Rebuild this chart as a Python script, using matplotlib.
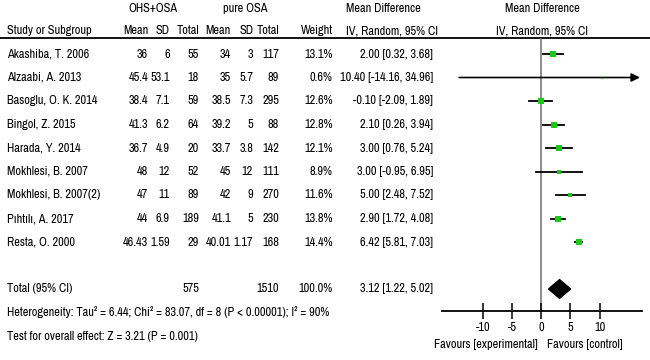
import numpy as np
import matplotlib
matplotlib.use("Agg")
import matplotlib.pyplot as plt
from matplotlib import font_manager

# condensed font, close to the Arial Narrow of the RevMan export
names = set(font_manager.get_font_names())
narrow = None
for cand in ["Liberation Sans Narrow", "Archivo Narrow", "Fira Sans Extra Condensed", "Roboto Condensed"]:
    if cand in names:
        narrow = cand
        break
if narrow:
    plt.rcParams['font.family'] = [narrow, 'DejaVu Sans']
    FS = 8.9
else:
    plt.rcParams['font.family'] = ['Liberation Sans', 'DejaVu Sans']
    FS = 7.6

# data
studies = ["Akashiba, T. 2006", "Alzaabi, A. 2013", "Basoglu, O. K. 2014", "Bingol, Z. 2015",
           "Harada, Y. 2014", "Mokhlesi, B. 2007", "Mokhlesi, B. 2007(2)", "Pıhtılı, A. 2017",
           "Resta, O. 2000"]
ohs_mean = ["36", "45.4", "38.4", "41.3", "36.7", "48", "47", "44", "46.43"]
ohs_sd = ["6", "53.1", "7.1", "6.2", "4.9", "12", "11", "6.9", "1.59"]
ohs_n = [55, 18, 59, 64, 20, 52, 89, 189, 29]
osa_mean = ["34", "35", "38.5", "39.2", "33.7", "45", "42", "41.1", "40.01"]
osa_sd = ["3", "5.7", "7.3", "5", "3.8", "12", "9", "5", "1.17"]
osa_n = [117, 89, 295, 88, 142, 111, 270, 230, 168]
weight = [13.1, 0.6, 12.6, 12.8, 12.1, 8.9, 11.6, 13.8, 14.4]
md = [2.00, 10.40, -0.10, 2.10, 3.00, 3.00, 5.00, 2.90, 6.42]
lo = [0.32, -14.16, -2.09, 0.26, 0.76, -0.95, 2.48, 1.72, 5.81]
hi = [3.68, 34.96, 1.89, 3.94, 5.24, 6.95, 7.52, 4.08, 7.03]
total_md, total_lo, total_hi = 3.12, 1.22, 5.02
xticks = [-10, -5, 0, 5, 10]
het_text = "Heterogeneity: Tau² = 6.44; Chi² = 83.07, df = 8 (P < 0.00001); I² = 90%"
test_text = "Test for overall effect: Z = 3.21 (P = 0.001)"

W, H = 650, 360
Y0, DY = 54, 23.5          # pixel y of first row, row spacing
def prow(py):
    return (py - Y0) / DY

fig = plt.figure(figsize=(W / 100, H / 100), dpi=100)
tx = fig.add_axes([0, 0, 1, 1])
tx.set_xlim(0, W)
tx.set_ylim(prow(H), prow(0))
tx.axis('off')

kw = dict(fontsize=FS, va='center', color='black')
# headers
tx.text(153, prow(9), "OHS+OSA", ha='center', **kw)
tx.text(245, prow(9), "pure OSA", ha='center', **kw)
tx.text(346, prow(9), "Mean Difference", ha='left', **kw)
tx.text(542, prow(9), "Mean Difference", ha='center', **kw)
hy = prow(31)
tx.text(7, hy, "Study or Subgroup", ha='left', **kw)
for x, s in [(148, "Mean"), (170, "SD"), (199, "Total"), (231, "Mean"),
             (253, "SD"), (279, "Total"), (333, "Weight")]:
    tx.text(x, hy, s, ha='right', **kw)
tx.text(346, hy, "IV, Random, 95% CI", ha='left', **kw)
tx.text(542, hy, "IV, Random, 95% CI", ha='center', **kw)
tx.plot([0, W], [prow(37.5), prow(37.5)], color='black', lw=1.3)

for i, name in enumerate(studies):
    tx.text(7, i, name, ha='left', **kw)
    tx.text(148, i, ohs_mean[i], ha='right', **kw)
    tx.text(170, i, ohs_sd[i], ha='right', **kw)
    tx.text(199, i, str(ohs_n[i]), ha='right', **kw)
    tx.text(231, i, osa_mean[i], ha='right', **kw)
    tx.text(253, i, osa_sd[i], ha='right', **kw)
    tx.text(279, i, str(osa_n[i]), ha='right', **kw)
    tx.text(333, i, "%.1f%%" % weight[i], ha='right', **kw)
    tx.text(433, i, "%.2f [%.2f, %.2f]" % (md[i], lo[i], hi[i]), ha='right', **kw)

tr = len(studies) + 1
tx.text(7, tr, "Total (95% CI)", ha='left', **kw)
tx.text(199, tr, str(sum(ohs_n)), ha='right', **kw)
tx.text(279, tr, str(sum(osa_n)), ha='right', **kw)
tx.text(333, tr, "100.0%", ha='right', **kw)
tx.text(433, tr, "%.2f [%.2f, %.2f]" % (total_md, total_lo, total_hi), ha='right', **kw)
tx.text(7, tr + 1, het_text, ha='left', **kw)
tx.text(7, tr + 2, test_text, ha='left', **kw)
tx.text(538, prow(344), "Favours [experimental]", ha='right', **kw)
tx.text(547, prow(344), "Favours [control]", ha='left', **kw)

# forest panel
left_px, right_px, top_px, bot_px = 442, 642, 37.5, 311
ax = fig.add_axes([left_px / W, (H - bot_px) / H, (right_px - left_px) / W, (bot_px - top_px) / H])
ax.patch.set_alpha(0)
xmin, xmax = -17.1, 17.3
ax.set_xlim(xmin, xmax)
ax.set_ylim(prow(bot_px), prow(top_px))
for s in ['top', 'right', 'left']:
    ax.spines[s].set_visible(False)
ax.spines['bottom'].set_linewidth(1.3)
ax.set_yticks([])
ax.set_xticks(xticks)
ax.set_xticklabels([str(t) for t in xticks])
ax.tick_params(axis='x', direction='inout', length=11, width=1.1, labelsize=FS, pad=2.5)
ax.axvline(0, color='#6e6e6e', lw=1.1, zorder=1)

green = '#19c819'
for i in range(len(studies)):
    if hi[i] > xmax:
        ax.annotate("", xy=(xmax - 0.35, i), xytext=(lo[i], i),
                    arrowprops=dict(arrowstyle='-|>,head_length=0.5,head_width=0.25',
                                    color='black', lw=1.2, shrinkA=0, shrinkB=0), zorder=2)
    else:
        ax.plot([lo[i], hi[i]], [i, i], color='black', lw=1.3, zorder=2)
    side = 1.3 * np.sqrt(weight[i]) + 0.5
    ax.plot(md[i], i, marker='s', ms=side * 0.72, color=green, mec=green, mew=0, zorder=3)

hh = 0.4
ax.fill([total_lo, total_md, total_hi, total_md], [tr, tr - hh, tr, tr + hh],
        color='black', zorder=3)

fig.savefig("out.png", dpi=100)
